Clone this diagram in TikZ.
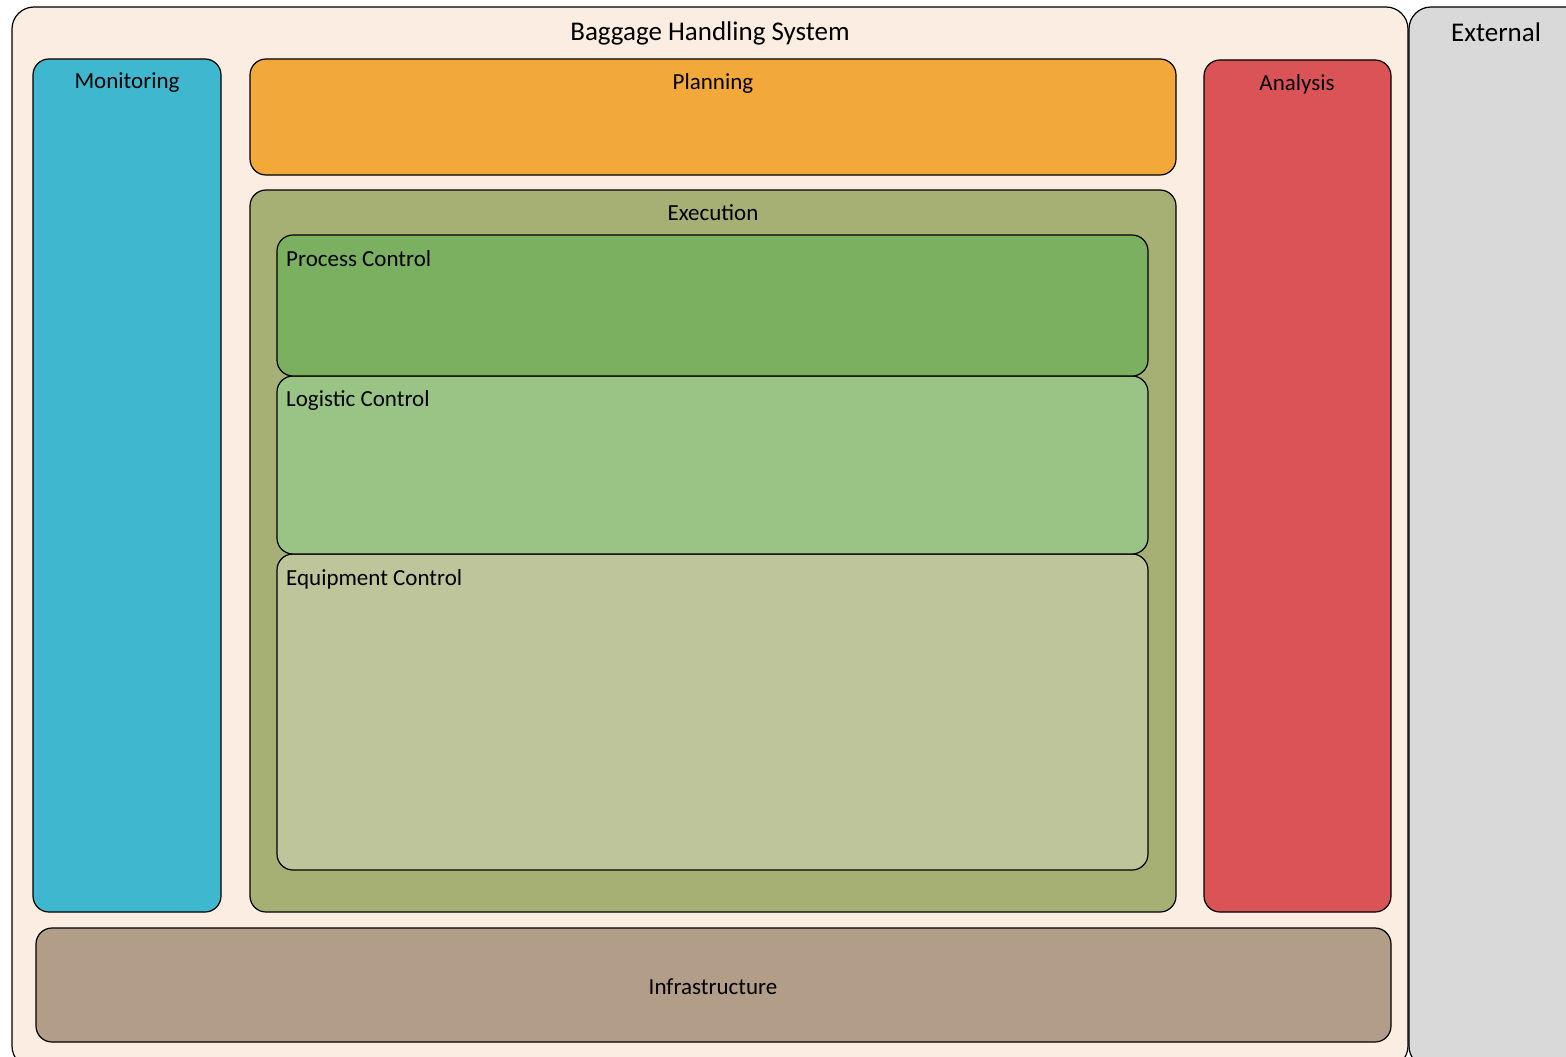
\documentclass[tikz,border=0pt]{standalone}
\usepackage{fontspec}
\setmainfont{Carlito}
\definecolor{bhsbg}{HTML}{FCEDE2}
\definecolor{extbg}{HTML}{D9D9D9}
\definecolor{monc}{HTML}{3FB8CF}
\definecolor{planc}{HTML}{F3A93A}
\definecolor{anac}{HTML}{DA5457}
\definecolor{exec}{HTML}{A6B074}
\definecolor{procc}{HTML}{7BB060}
\definecolor{logc}{HTML}{9AC486}
\definecolor{equc}{HTML}{BFC59A}
\definecolor{infc}{HTML}{B29D89}
\tikzset{
  area/.style={draw=black, line width=1.2pt, rounded corners=16pt},
  big/.style={draw=black, line width=1.2pt, rounded corners=22pt},
  ttl/.style={font=\fontsize{27}{32}\selectfont, text=black, inner sep=0pt},
  lbl/.style={font=\fontsize{23}{28}\selectfont, text=black, inner sep=0pt},
}
\begin{document}
\begin{tikzpicture}[x=1pt,y=-1pt]
\useasboundingbox (0,0) rectangle (1566,1057);
\fill[white] (0,0) rectangle (1566,1057);
\clip (0,0) rectangle (1566,1057);
% outer containers
\draw[big, fill=bhsbg] (12,7) rectangle (1408,1068);
\draw[big, fill=extbg] (1409,7) rectangle (1600,1068);
\node[ttl] (bhs) at (710,33) {Baggage Handling System};
\node[ttl] (ext) at (1496,32) {External};
% side columns
\draw[area, fill=monc] (33,59) rectangle (221,912);
\node[lbl] (mon) at (127,83) {Monitoring};
\draw[area, fill=anac] (1204,60) rectangle (1391,912);
\node[lbl] (ana) at (1297,84) {Analysis};
% planning
\draw[area, fill=planc] (250,59) rectangle (1176,175);
\node[lbl] (plan) at (713,83) {Planning};
% execution
\draw[area, fill=exec] (250,190) rectangle (1176,912);
\node[lbl] (exe) at (713,213) {Execution};
\draw[area, fill=equc] (277,554) rectangle (1148,870);
\draw[area, fill=logc] (277,376) rectangle (1148,554);
\draw[area, fill=procc] (277,235) rectangle (1148,376);
\node[lbl, anchor=west] (proc) at (286,259) {Process Control};
\node[lbl, anchor=west] (logi) at (286,400) {Logistic Control};
\node[lbl, anchor=west] (equi) at (286,579) {Equipment Control};
% infrastructure
\draw[area, fill=infc] (36,928) rectangle (1391,1042);
\node[lbl] (inf) at (713,987) {Infrastructure};
\end{tikzpicture}
\end{document}
